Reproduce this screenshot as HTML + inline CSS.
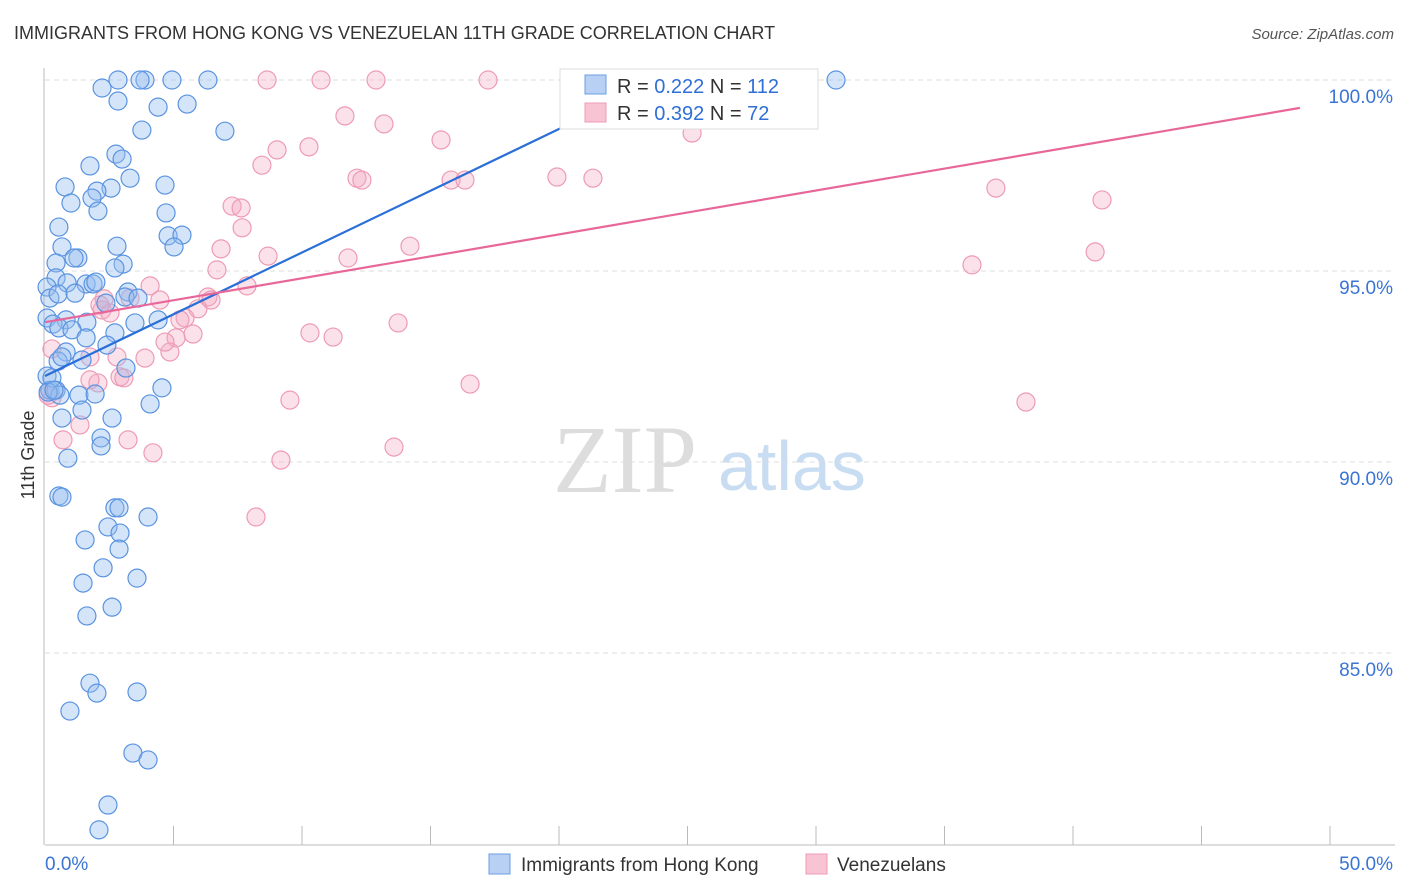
<!DOCTYPE html>
<html><head><meta charset="utf-8"><style>
body{margin:0;background:#fff;font-family:"Liberation Sans",sans-serif;}
#wrap{position:relative;width:1406px;height:892px;overflow:hidden;}
</style></head><body>
<div id="wrap">
<svg id="chart" width="1406" height="892">
<text x="14" y="39" font-size="18" fill="#333">IMMIGRANTS FROM HONG KONG VS VENEZUELAN 11TH GRADE CORRELATION CHART</text>
<text x="1394" y="39" font-size="15" fill="#555" font-style="italic" text-anchor="end">Source: ZipAtlas.com</text>
<text x="34" y="455" font-size="18" fill="#333" transform="rotate(-90 34 455)" text-anchor="middle">11th Grade</text>
<g><text x="553" y="492" font-size="96" fill="#ddd" font-family="Liberation Serif,serif">ZIP</text><text x="718" y="490" font-size="70" fill="#c8dcf2">atlas</text></g>
<g id="grid"></g><g id="pts"></g><g id="trend"></g>
<g>
<rect x="560" y="69" width="258" height="60" fill="#fff" stroke="#ddd"/>
<rect x="585" y="75" width="21" height="19" fill="#b8d0f4" stroke="#6a9ee6"/>
<text x="617" y="93" font-size="20" fill="#333">R = <tspan fill="#2f6fd6">0.222</tspan>   N = <tspan fill="#2f6fd6">112</tspan></text>
<rect x="585" y="103" width="21" height="19" fill="#f8c4d4" stroke="#ee9bb5"/>
<text x="617" y="120" font-size="20" fill="#333">R = <tspan fill="#2f6fd6">0.392</tspan>   N =  <tspan fill="#2f6fd6">72</tspan></text>
</g>
<g>
<rect x="489" y="854" width="21" height="20" fill="#b8d0f4" stroke="#6a9ee6"/>
<text x="521" y="871" font-size="19" fill="#333">Immigrants from Hong Kong</text>
<rect x="806" y="854" width="21" height="20" fill="#f8c4d4" stroke="#ee9bb5"/>
<text x="837" y="871" font-size="19" fill="#333">Venezuelans</text>
</g>
</svg></div>
<script>
const yTicks=[100,95,90,85];
const yTickLabels=["100.0%","95.0%","90.0%","85.0%"];
const xTickLabels=["0.0%","50.0%"];
const blueX=[30.78,2.84,3.89,3.7,4.94,6.34,2.22,2.84,4.4,5.53,3.77,7.0,2.76,3.0,1.75,3.31,0.78,4.67,2.57,2.02,1.83,2.06,1.01,4.71,0.54,4.79,5.33,5.02,0.66,2.8,0.43,1.28,1.13,3.04,2.72,0.43,0.86,1.6,1.87,1.98,0.08,3.23,0.19,0.51,1.17,3.11,3.62,2.37,0.08,0.82,1.63,4.4,0.31,3.5,0.54,1.05,2.72,1.6,2.41,0.82,0.51,0.66,1.44,3.15,0.08,0.19,4.55,0.43,0.58,1.32,1.95,1.44,4.09,0.66,2.61,2.18,2.18,0.89,0.54,0.66,2.72,2.88,4.01,1.56,2.45,2.92,2.88,2.26,3.58,1.48,1.63,2.61,1.75,2.02,3.58,0.97,3.42,4.01,2.45,2.1,0.27,0.12,0.35];
const blueY=[100,100,100,100,100,100,99.79,99.45,99.29,99.37,98.69,98.66,98.06,97.93,97.75,97.43,97.2,97.25,97.17,97.09,96.91,96.57,96.78,96.52,96.15,95.92,95.94,95.63,95.63,95.65,95.21,95.34,95.34,95.18,95.08,94.82,94.69,94.66,94.66,94.71,94.58,94.45,94.29,94.4,94.42,94.32,94.29,94.16,93.77,93.72,93.66,93.72,93.61,93.64,93.51,93.46,93.38,93.25,93.06,92.88,92.64,92.75,92.67,92.46,92.25,91.88,91.94,91.88,91.75,91.75,91.78,91.36,91.52,91.15,91.15,90.63,90.42,90.1,89.11,89.08,88.8,88.8,88.56,87.96,88.3,88.14,87.72,87.23,86.96,86.83,85.97,86.2,84.21,83.95,83.98,83.48,82.38,82.2,81.02,80.37,92.2,91.83,91.88];
const pinkX=[8.64,10.74,12.88,17.24,11.67,13.19,15.41,10.27,9.03,8.44,12.14,12.33,15.8,16.34,19.92,21.32,25.18,37.0,41.13,7.28,7.63,7.67,6.85,14.2,8.68,11.79,6.69,40.86,36.07,7.86,6.34,6.46,4.09,4.47,3.31,2.3,2.22,2.53,5.95,5.45,5.25,5.76,5.1,4.86,4.67,3.89,2.8,1.75,0.27,10.31,11.21,13.74,2.92,3.07,9.53,16.54,38.17,2.06,1.36,0.7,3.23,4.2,9.18,13.58,8.21,0.27,0.12,1.75,2.14];
const pinkY=[100,100,100,100,99.06,98.85,98.43,98.25,98.17,97.77,97.43,97.38,97.38,97.38,97.46,97.43,98.61,97.17,96.86,96.7,96.65,96.13,95.58,95.65,95.39,95.34,95.03,95.5,95.16,94.61,94.32,94.24,94.61,94.24,94.29,94.27,93.98,93.9,94.01,93.77,93.72,93.35,93.25,92.88,93.14,92.72,92.75,92.75,92.96,93.38,93.27,93.64,92.23,92.2,91.62,92.04,91.57,92.07,90.97,90.58,90.58,90.24,90.05,90.39,88.56,91.68,91.75,92.15,94.11];
const blueTrendX=[0,23.5];const blueTrendY=[92.25,99.85];
const pinkTrendX=[0,48.83];const pinkTrendY=[93.66,99.27];
const X0=45,X1=1330,Y100=80,PX_PER=38.2;
const sx=v=>X0+(X1-X0)*v/50;
const sy=v=>Y100+(100-v)*PX_PER;
const NS="http://www.w3.org/2000/svg";
function mk(t,a,p){const e=document.createElementNS(NS,t);for(const k in a)e.setAttribute(k,a[k]);p.appendChild(e);return e;}
const grid=document.getElementById('grid');
yTicks.forEach((t,i)=>{
  const l=mk('line',{x1:X0,x2:1395,y1:sy(t),y2:sy(t),stroke:'#ddd','stroke-dasharray':'5,4'},grid);
  
  
  const tx=mk('text',{x:1393,y:sy(t)+23,'font-size':19,fill:'#3a74d4','text-anchor':'end'},grid);
  tx.textContent=yTickLabels[i];
  
  
});
const ax=mk('line',{x1:X0,x2:1395,y1:845,y2:845,stroke:'#bbb'},grid);


const ay=mk('line',{x1:X0-1,x2:X0-1,y1:68,y2:845,stroke:'#bbb'},grid);


for(let i=1;i<=10;i++){const t=mk('line',{x1:sx(i*5),x2:sx(i*5),y1:826,y2:845,stroke:'#bbb'},grid);

}
[[0,'start',X0],[50,'end',1393]].forEach((d,i)=>{const t=mk('text',{x:d[2],y:870,'font-size':19,fill:'#3a74d4','text-anchor':d[1]},grid);t.textContent=xTickLabels[i];

});
const pts=document.getElementById('pts');
pinkX.forEach((x,i)=>{const c=mk('circle',{cx:sx(x),cy:sy(pinkY[i]),r:9,fill:'rgba(244,170,195,0.35)',stroke:'#ee9bb5','stroke-width':1.2},pts);

});
blueX.forEach((x,i)=>{const c=mk('circle',{cx:sx(x),cy:sy(blueY[i]),r:9,fill:'rgba(150,190,240,0.4)',stroke:'#5a93e0','stroke-width':1.2},pts);

});
const tr=document.getElementById('trend');
const bl=mk('line',{x1:sx(blueTrendX[0]),y1:sy(blueTrendY[0]),x2:sx(blueTrendX[1]),y2:sy(blueTrendY[1]),stroke:'#2a6fd8','stroke-width':2.2},tr);


const pl=mk('line',{x1:sx(pinkTrendX[0]),y1:sy(pinkTrendY[0]),x2:sx(pinkTrendX[1]),y2:sy(pinkTrendY[1]),stroke:'#e8679a','stroke-width':2.2},tr);


</script>
</body></html>
